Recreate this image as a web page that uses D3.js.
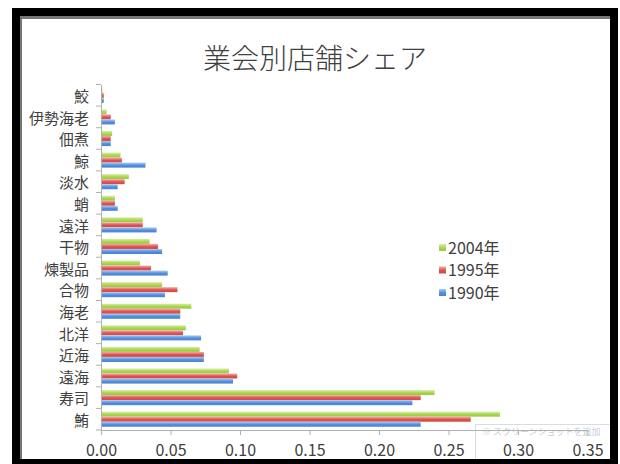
<!DOCTYPE html>
<html>
<head>
<meta charset="utf-8">
<title>業会別店舗シェア</title>
<style>
  body { margin: 0; background: #fff; }
  svg text { font-family: "Noto Sans CJK JP", "Noto Sans", sans-serif; }
</style>
</head>
<body>
<div id="chart"></div>
<script src="https://cdn.jsdelivr.net/npm/d3@7"></script>
<script>
// categories, top to bottom as they appear
var categories = ["鮫", "伊勢海老", "佃煮", "鯨", "淡水", "蛸", "遠洋", "干物",
                  "煉製品", "合物", "海老", "北洋", "近海", "遠海", "寿司", "鮪"];
var seriesNames = ["2004年", "1995年", "1990年"];
var share2004 = [0.001, 0.004, 0.008, 0.014, 0.020, 0.010, 0.030, 0.035,
                 0.028, 0.044, 0.065, 0.061, 0.071, 0.092, 0.240, 0.287];
var share1995 = [0.002, 0.007, 0.007, 0.015, 0.017, 0.010, 0.030, 0.041,
                 0.036, 0.055, 0.057, 0.059, 0.074, 0.098, 0.230, 0.266];
var share1990 = [0.002, 0.010, 0.007, 0.032, 0.012, 0.012, 0.040, 0.044,
                 0.048, 0.046, 0.057, 0.072, 0.074, 0.095, 0.224, 0.230];
var xTicks = [0, 0.05, 0.10, 0.15, 0.20, 0.25, 0.30, 0.35];

var seriesValues = [share2004, share1995, share1990];
var seriesColors = ["#a8d64a", "#e0504c", "#4f8ee0"];

var W = 620, H = 464;
var svg = d3.select("#chart").append("svg")
  .attr("width", W).attr("height", H);

// screenshot frame
svg.append("rect").attr("x", 12).attr("y", 8).attr("width", 606).attr("height", 456).attr("fill", "#000");
svg.append("rect").attr("x", 20).attr("y", 16).attr("width", 590).attr("height", 443).attr("fill", "#777");
svg.append("rect").attr("x", 22).attr("y", 19).attr("width", 588).attr("height", 440).attr("fill", "#fff");

var defs = svg.append("defs");
seriesColors.forEach(function(c, i) {
  var g = defs.append("linearGradient").attr("id", "grad" + i)
    .attr("x1", 0).attr("y1", 0).attr("x2", 0).attr("y2", 1);
  g.append("stop").attr("offset", "0%").attr("stop-color", d3.interpolateRgb(c, "#fff")(0.55));
  g.append("stop").attr("offset", "55%").attr("stop-color", c);
  g.append("stop").attr("offset", "100%").attr("stop-color", d3.color(c).darker(0.2));
});

var plotLeft = 101, plotRight = 587.5, plotTop = 84.5, plotBottom = 430;

var x = d3.scaleLinear().domain([0, 0.35]).range([plotLeft, plotRight]);
var y = d3.scaleBand().domain(categories).range([plotTop, plotBottom])
  .paddingInner(0.3).paddingOuter(0.15);
var yAll = d3.scaleBand().domain(categories).range([plotTop, plotBottom]);
var ySub = d3.scaleBand().domain(seriesNames).range([0, y.bandwidth()]);

// title
svg.append("text")
  .attr("x", 315).attr("y", 69)
  .attr("text-anchor", "middle")
  .attr("font-size", 28)
  .attr("font-weight", 300)
  .attr("fill", "#404040")
  .text("業会別店舗シェア");

// bars
seriesNames.forEach(function(name, si) {
  svg.append("g").selectAll("rect")
    .data(categories)
    .enter().append("rect")
    .attr("x", x(0))
    .attr("y", function(d) { return y(d) + ySub(name); })
    .attr("width", function(d, i) { return x(seriesValues[si][i]) - x(0); })
    .attr("height", ySub.bandwidth())
    .attr("fill", "url(#grad" + si + ")");
});

// y axis
var yAxis = svg.append("g")
  .attr("transform", "translate(" + plotLeft + ",0)")
  .call(d3.axisLeft(yAll).tickSize(0).tickPadding(12));
yAxis.select(".domain").attr("stroke", "#b0b0b0");
yAxis.selectAll("text").attr("font-size", 15).attr("fill", "#404040").attr("dy", "0.45em");
// ticks on band boundaries
svg.append("g").selectAll("line")
  .data(categories.concat(["_end"]))
  .enter().append("line")
  .attr("x1", plotLeft - 5).attr("x2", plotLeft)
  .attr("y1", function(d, i) { return plotTop + i * yAll.step(); })
  .attr("y2", function(d, i) { return plotTop + i * yAll.step(); })
  .attr("stroke", "#b0b0b0");

// faint screenshot overlay box, under the last tick labels
var ov = svg.append("g");
ov.append("rect").attr("x", 475.5).attr("y", 424.5).attr("width", 140).attr("height", 40)
  .attr("fill", "#fff").attr("stroke", "#d8dce4");
ov.append("text").attr("x", 482).attr("y", 435).attr("font-size", 9).attr("fill", "#c4cedd")
  .text("※ スクリーンショットを追加");

// x axis
var xAxis = svg.append("g")
  .attr("transform", "translate(0," + plotBottom + ")")
  .call(d3.axisBottom(x).tickValues(xTicks).tickFormat(d3.format(".2f"))
    .tickSize(5).tickSizeOuter(0).tickPadding(10));
xAxis.select(".domain").attr("stroke", "#b0b0b0");
xAxis.selectAll(".tick line").attr("stroke", "#b0b0b0");
xAxis.selectAll("text").attr("font-size", 16).attr("fill", "#404040");

// legend
var legend = svg.append("g").attr("transform", "translate(439,244)");
seriesNames.forEach(function(name, i) {
  var g = legend.append("g").attr("transform", "translate(0," + i * 22.5 + ")");
  g.append("rect").attr("x", 0).attr("y", 0).attr("width", 7).attr("height", 7)
    .attr("fill", "url(#grad" + i + ")");
  g.append("text").attr("x", 9).attr("y", 3.5).attr("dy", "0.38em")
    .attr("font-size", 16).attr("fill", "#404040").text(name);
});

// redraw right and bottom frame edges over the overlay
svg.append("rect").attr("x", 610).attr("y", 8).attr("width", 8).attr("height", 456).attr("fill", "#000");
svg.append("rect").attr("x", 12).attr("y", 459).attr("width", 606).attr("height", 5).attr("fill", "#000");
</script>
</body>
</html>
